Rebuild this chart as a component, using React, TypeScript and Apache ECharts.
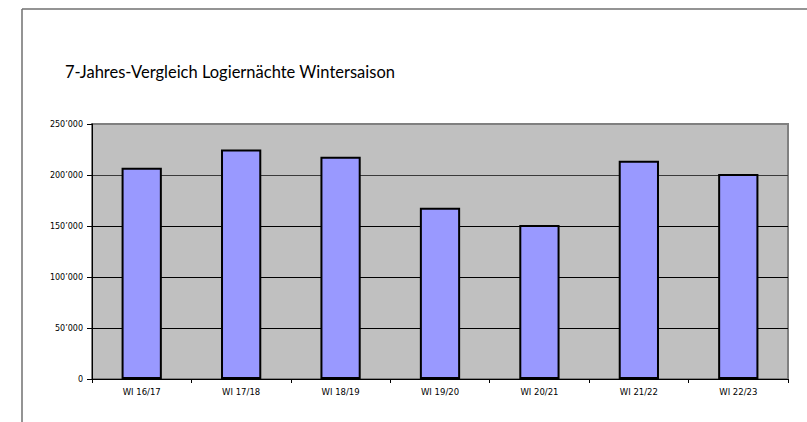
import React, { useEffect, useRef } from "react";
import * as echarts from "echarts";

const categories = ["WI 16/17", "WI 17/18", "WI 18/19", "WI 19/20", "WI 20/21", "WI 21/22", "WI 22/23"];
const nights = [207000, 225000, 218000, 168000, 151000, 214000, 201000];
const yTicks = [0, 50000, 100000, 150000, 200000, 250000];
const title = "7-Jahres-Vergleich Logiernächte Wintersaison";

function fmt(v: number): string {
  if (v === 0) return "0";
  const s = String(v);
  return s.slice(0, s.length - 3) + "\u2019" + s.slice(s.length - 3);
}

export default function App() {
  const ref = useRef<HTMLDivElement>(null);
  useEffect(() => {
    if (!ref.current) return;
    const chart = echarts.init(ref.current, null, { renderer: "svg" });
    chart.setOption({
      animation: false,
      backgroundColor: "#ffffff",
      graphic: [
        { type: "line", shape: { x1: 22, y1: 9, x2: 807, y2: 9 }, style: { stroke: "#707070", lineWidth: 1.5 } },
        { type: "line", shape: { x1: 22, y1: 9, x2: 22, y2: 422 }, style: { stroke: "#707070", lineWidth: 1.5 } },
      ],
      title: {
        text: title,
        left: 60,
        top: 58,
        textStyle: { fontFamily: "Lato", fontWeight: "normal", fontSize: 16.5, color: "#000" },
      },
      grid: {
        left: 92,
        right: 19,
        top: 124,
        bottom: 43,
        show: true,
        backgroundColor: "#C0C0C0",
        borderColor: "#808080",
        borderWidth: 2,
      },
      xAxis: {
        type: "category",
        data: categories,
        axisLine: { lineStyle: { color: "#000", width: 1 } },
        axisTick: { show: true, alignWithLabel: false, length: 4, lineStyle: { color: "#000" } },
        axisLabel: { fontFamily: "DejaVu Sans", fontSize: 8.5, color: "#000", margin: 8 },
      },
      yAxis: {
        type: "value",
        min: 0,
        max: 250000,
        interval: 50000,
        axisLine: { show: true, lineStyle: { color: "#000", width: 1 } },
        axisTick: { show: true, length: 5, lineStyle: { color: "#000" } },
        splitLine: {
          show: true,
          showMaxLine: false,
          lineStyle: { color: ["#000", "#000", "#000", "#000", "#3a3a3a", "#808080"], width: 1 },
        },
        axisLabel: {
          fontFamily: "DejaVu Sans",
          fontSize: 8,
          color: "#000",
          margin: 9,
          formatter: (v: number) => (yTicks.includes(v) ? fmt(v) : ""),
        },
      },
      series: [
        {
          type: "bar",
          data: nights,
          barWidth: "40.5%",
          itemStyle: { color: "#9999FF", borderColor: "#000", borderWidth: 2 },
        },
      ],
    });
    return () => chart.dispose();
  }, []);
  return <div ref={ref} style={{ width: 807, height: 422, position: "absolute", left: 0, top: 0 }} />;
}
